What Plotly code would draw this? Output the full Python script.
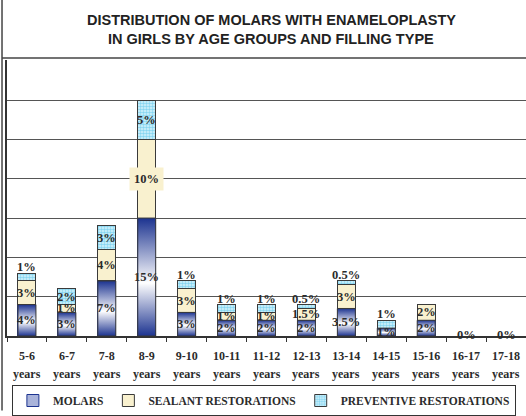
import plotly.graph_objects as go

# Age groups and share of molars (%) by filling type
age_groups = ["5-6", "6-7", "7-8", "8-9", "9-10", "10-11", "11-12",
              "12-13", "13-14", "14-15", "15-16", "16-17", "17-18"]
molars = [4, 3, 7, 15, 3, 2, 2, 2, 3.5, 1, 2, 0, 0]
sealant = [3, 1, 4, 10, 3, 1, 1, 1.5, 3, 0, 2, 0, 0]
preventive = [1, 2, 3, 5, 1, 1, 1, 0.5, 0.5, 1, 0, 0, 0]
title_lines = ["DISTRIBUTION OF MOLARS WITH ENAMELOPLASTY",
               "IN GIRLS BY AGE GROUPS AND FILLING TYPE"]

xs = list(range(len(age_groups)))
BAR_W = 0.45
NAVY = "#1c3390"
CREAM = "#f9f1cf"
EDGE = "#3a3a3a"
SERIF = "Liberation Serif"
SANS = "Liberation Sans"
TXT = "#2b2b2b"

fig = go.Figure()

fig.add_trace(go.Bar(
    x=xs, y=molars, width=BAR_W, name="MOLARS",
    marker=dict(color="#a9b3da", line=dict(color=NAVY, width=1)),
    hoverinfo="skip",
))
fig.add_trace(go.Bar(
    x=xs, y=sealant, width=BAR_W, name="SEALANT RESTORATIONS",
    marker=dict(color=CREAM, line=dict(color=EDGE, width=1)),
    hoverinfo="skip",
))
fig.add_trace(go.Bar(
    x=xs, y=preventive, width=BAR_W, name="PREVENTIVE RESTORATIONS",
    marker=dict(color="#c4ecf9", line=dict(color=EDGE, width=1),
                pattern=dict(shape=".", fgcolor="#33b7e6", bgcolor="#d8f3fb",
                             size=3, solidity=0.55)),
    hoverinfo="skip",
))

# Navy-white-navy shading on the molar segments
for i, m in zip(xs, molars):
    if m <= 0:
        continue
    x0, x1 = i - BAR_W / 2, i + BAR_W / 2
    fig.add_trace(go.Scatter(
        x=[x0, x1, x1, x0, x0], y=[0, 0, m, m, 0],
        mode="lines", fill="toself",
        fillgradient=dict(type="vertical",
                          colorscale=[[0, NAVY], [0.45, "#ffffff"], [1, NAVY]]),
        line=dict(color=EDGE, width=1),
        showlegend=False, hoverinfo="skip",
    ))

# Value labels
lab_font = dict(family=SERIF, size=12.5, color=TXT, weight="bold")


def pct(v):
    return f"{v:g}%"


for i in xs:
    m, s, p = molars[i], sealant[i], preventive[i]
    if m + s + p == 0:
        fig.add_annotation(x=i, y=0, text=pct(0), showarrow=False,
                           font=lab_font, yanchor="middle", yshift=1)
        continue
    if m > 0:
        fig.add_annotation(x=i, y=m / 2, text=pct(m), showarrow=False,
                           font=lab_font, yanchor="middle")
    if s > 0:
        kw = dict(bgcolor=CREAM, borderpad=4) if s >= 10 else {}
        fig.add_annotation(x=i, y=m + s / 2, text=pct(s), showarrow=False,
                           font=lab_font, yanchor="middle", **kw)
    if p > 0:
        if p >= 2:
            fig.add_annotation(x=i, y=m + s + p / 2, text=pct(p),
                               showarrow=False, font=lab_font, yanchor="middle")
        else:
            fig.add_annotation(x=i, y=m + s + p, text=pct(p), showarrow=False,
                               font=lab_font, yanchor="bottom", yshift=-3)

# Second line of the category labels
for i in xs:
    fig.add_annotation(x=i, y=0, yref="paper", text="years", showarrow=False,
                       font=dict(family=SERIF, size=12, color=TXT, weight="bold"),
                       yanchor="middle", yshift=-38)

# Two-line heading
for k, (line, yp) in enumerate(zip(title_lines, [1.1454, 1.0745])):
    fig.add_annotation(x=0.509, y=yp, xref="paper", yref="paper", text=line,
                       showarrow=False, xanchor="center", yanchor="middle",
                       font=dict(family=SANS, size=14.5, color="#222",
                                 weight="bold"))

# Frame lines around the title block
fig.add_shape(type="line", xref="paper", yref="paper",
              x0=-0.0096, x1=1.02, y0=1.007, y1=1.007,
              line=dict(color="#444", width=1.5))
fig.add_shape(type="line", xref="paper", yref="paper",
              x0=-0.0096, x1=-0.0096, y0=-0.27, y1=1.22,
              line=dict(color="#444", width=1.5))

fig.update_layout(
    width=526, height=416,
    margin=dict(l=7, r=0, t=60, b=74),
    paper_bgcolor="white", plot_bgcolor="white",
    barmode="stack",
    xaxis=dict(
        range=[-0.5, len(age_groups) - 0.5],
        tickmode="array", tickvals=xs, ticktext=age_groups,
        ticks="", showgrid=False, zeroline=False,
        showline=True, linecolor="#333", linewidth=1.5,
        tickfont=dict(family=SERIF, size=12, color=TXT, weight="bold"),
        ticklabelstandoff=8,
        minor=dict(tick0=0.5, dtick=1, ticks="outside", ticklen=4,
                   tickcolor="#333", showgrid=False),
    ),
    yaxis=dict(
        range=[0, 35.1], dtick=5, showticklabels=False, ticks="",
        showgrid=True, gridcolor="#555", gridwidth=1,
        zeroline=False, showline=True, linecolor="#333", linewidth=2,
    ),
    legend=dict(
        orientation="h", x=0.495, xanchor="center", y=-0.235, yanchor="middle",
        bordercolor="#333", borderwidth=1, bgcolor="white",
        font=dict(family=SERIF, size=11.5, color=TXT, weight="bold"),
        itemwidth=30, traceorder="normal",
    ),
    showlegend=True,
)

fig.write_html("out.html")
